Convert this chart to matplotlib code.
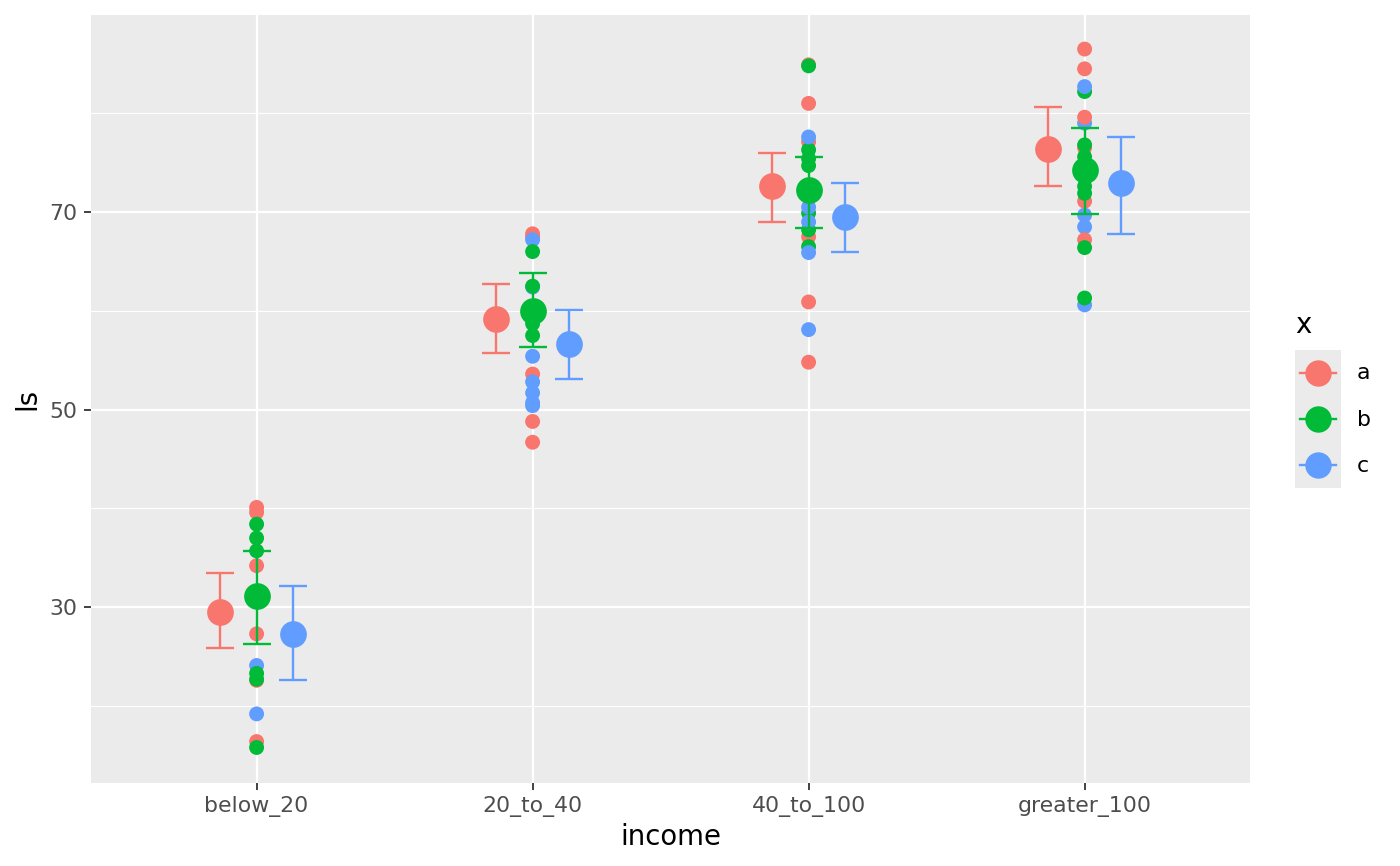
import numpy as np
import matplotlib
matplotlib.use("Agg")
import matplotlib.pyplot as plt
from matplotlib.lines import Line2D

# categories and groups
income = ["below_20", "20_to_40", "40_to_100", "greater_100"]
groups = ["a", "b", "c"]
colors = {"a": "#F8766D", "b": "#00BA38", "c": "#619CFF"}

# raw observations (in drawing order)
raw_income = (["below_20"] * 14 + ["20_to_40"] * 16 + ["40_to_100"] * 18 + ["greater_100"] * 18)
raw_x = (list("aaaaaa") + list("cc") + list("bbbbbb")
         + list("aaaaa") + list("ccccccc") + list("bbbb")
         + list("aaaaaa") + list("bbbbbbb") + list("ccccc")
         + list("bccccc") + list("aaaaaa") + list("bbbbbb"))
raw_ls = ([40.1, 39.6, 34.2, 27.3, 22.6, 16.4] + [24.1, 19.2] + [38.4, 37.0, 35.7, 23.3, 22.7, 15.8]
          + [67.8, 67.5, 53.6, 48.8, 46.7] + [67.2, 62.4, 55.4, 52.8, 51.7, 50.7, 50.4] + [66.0, 62.5, 58.7, 57.5]
          + [84.9, 81.0, 77.1, 67.5, 60.9, 54.8] + [84.8, 76.3, 75.4, 74.7, 69.9, 68.2, 66.5]
          + [77.6, 70.5, 69.0, 65.9, 58.1]
          + [82.2, 82.7, 79.0, 69.7, 68.5, 60.6] + [86.5, 84.5, 79.6, 76.5, 71.1, 67.2]
          + [76.8, 75.6, 72.6, 71.9, 66.4, 61.3])

# group means and interval bounds
mean_ls = {"a": [29.5, 59.2, 72.6, 76.35],
           "b": [31.1, 60.0, 72.2, 74.3],
           "c": [27.3, 56.6, 69.5, 72.9]}
low_ls = {"a": [25.9, 55.75, 69.0, 72.6],
          "b": [26.25, 56.3, 68.4, 69.8],
          "c": [22.6, 53.1, 65.95, 67.8]}
high_ls = {"a": [33.5, 62.7, 76.0, 80.6],
           "b": [35.7, 63.8, 75.6, 78.5],
           "c": [32.1, 60.1, 72.9, 77.6]}

fig = plt.figure(figsize=(14, 8.66), dpi=100)
ax = fig.add_axes([0.065, 0.0958, 0.828, 0.8869])
ax.set_facecolor("#EBEBEB")

pos = {k: i for i, k in enumerate(income)}
xs = [pos[k] for k in raw_income]
cs = [colors[g] for g in raw_x]
ax.scatter(xs, raw_ls, s=115, c=cs, linewidths=0, zorder=2)

dodge = 0.4 / 3
for j, g in enumerate(groups):
    xpos = np.arange(len(income)) + (j - 1) * dodge
    m = np.array(mean_ls[g])
    lo = m - np.array(low_ls[g])
    hi = np.array(high_ls[g]) - m
    ax.errorbar(xpos, m, yerr=[lo, hi], fmt="none", ecolor=colors[g],
                elinewidth=1.7, capsize=10, capthick=1.7, zorder=3)
    ax.scatter(xpos, m, s=370, color=colors[g], linewidths=0, zorder=4)

ax.set_xlim(-0.6, 3.6)
ax.set_ylim(12.2, 89.95)
ax.set_xticks(range(len(income)))
ax.set_xticklabels(income)
ax.set_yticks([30, 50, 70])
ax.set_yticks([20, 40, 60, 80], minor=True)
ax.set_xticks([], minor=True)
ax.grid(which="major", color="white", linewidth=1.6)
ax.grid(which="minor", axis="y", color="white", linewidth=0.8)
ax.set_axisbelow(True)
for s in ax.spines.values():
    s.set_visible(False)
ax.tick_params(which="major", length=5, width=1.3, color="#333333",
               labelcolor="#4D4D4D", labelsize=15.8, pad=4.5)
ax.tick_params(which="minor", length=0)
ax.set_xlabel("income", fontsize=19.8, labelpad=4.5)
ax.set_ylabel("ls", fontsize=19.8, labelpad=6)

# legend
lax = fig.add_axes([1295 / 1400, 1 - 488 / 866, 46 / 1400, 138 / 866])
lax.set_facecolor("#EBEBEB")
lax.set_xlim(0, 1)
lax.set_ylim(0, 3)
for s in lax.spines.values():
    s.set_visible(False)
lax.set_xticks([])
lax.set_yticks([])
for j, g in enumerate(groups):
    yk = 2.5 - j
    lax.add_line(Line2D([0.1, 0.9], [yk, yk], color=colors[g], linewidth=1.7))
    lax.plot([0.5], [yk], marker="o", markersize=19, color=colors[g], markeredgewidth=0)
    fig.text(1357 / 1400, 1 - (373 + 46.5 * j) / 866, g, fontsize=15.8,
             va="center", ha="left")
fig.text(1295 / 1400, 1 - 325 / 866, "x", fontsize=19.8, va="center", ha="left")

fig.savefig("out.png", dpi=100)
